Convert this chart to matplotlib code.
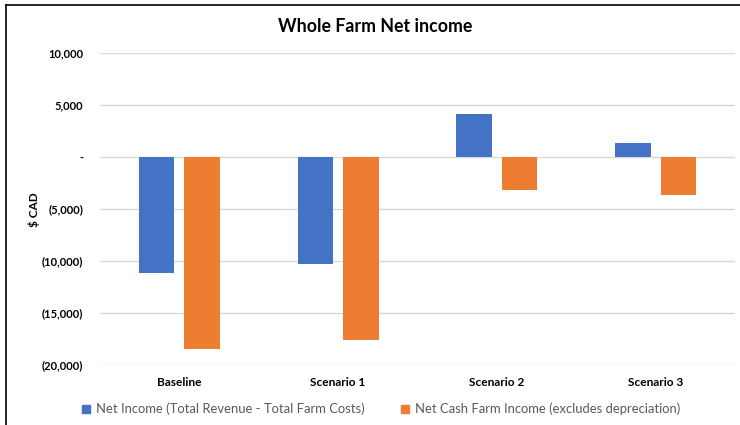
import matplotlib
matplotlib.use("Agg")
import matplotlib.pyplot as plt
import numpy as np
from matplotlib.ticker import FuncFormatter
from matplotlib.lines import Line2D

plt.rcParams['font.family'] = ['Lato', 'DejaVu Sans']

categories = ["Baseline", "Scenario 1", "Scenario 2", "Scenario 3"]
net_income = [-11200, -10300, 4100, 1300]
net_cash = [-18500, -17600, -3200, -3700]
series_names = ["Net Income (Total Revenue - Total Farm Costs)",
                "Net Cash Farm Income (excludes depreciation)"]
colors = ["#4472C4", "#ED7D31"]

fig = plt.figure(figsize=(7.4, 4.25), dpi=100)
ax = fig.add_axes([100/740, 1-365/425, 635/740, (365-53)/425])

x = np.arange(len(categories))
w = 0.224
off = 0.143
ax.bar(x - off, net_income, w, color=colors[0], zorder=3)
ax.bar(x + off, net_cash, w, color=colors[1], zorder=3)

ax.set_xlim(-0.5, 3.5)
ax.set_ylim(-20000, 10000)
ax.set_yticks(np.arange(-20000, 10001, 5000))

def fmt(v, pos):
    if v == 0:
        return "-"
    if v < 0:
        return "({:,.0f})".format(-v)
    return "{:,.0f}".format(v)

ax.yaxis.set_major_formatter(FuncFormatter(fmt))
ax.grid(axis='y', color='#D9D9D9', linewidth=1.0, zorder=0)
for s in ax.spines.values():
    s.set_visible(False)
ax.tick_params(axis='both', length=0, colors='#000000')
ax.tick_params(axis='y', pad=12, labelsize=8)
ax.tick_params(axis='x', pad=9, labelsize=8.6)
ax.set_xticks(x)
ax.set_xticklabels(categories, fontweight='bold')
for lbl in ax.get_yticklabels():
    lbl.set_fontweight('bold')

fig.text(34/740, 1-210/425, "$ CAD", rotation=90, ha='center', va='center',
         fontsize=8.5, fontweight='bold')
fig.text(375/740, 1-27/425, "Whole Farm Net income", ha='center', va='center',
         fontsize=12.8, fontweight='bold')

handles = [Line2D([], [], marker='s', linestyle='none', markersize=6,
                  markerfacecolor=c, markeredgecolor=c) for c in colors]
leg = fig.legend(handles, series_names, loc='center', bbox_to_anchor=(380/740, 1-409/425),
                 ncol=2, frameon=False, fontsize=9.4, handletextpad=0.25,
                 columnspacing=2.6, handlelength=1.0)
for t in leg.get_texts():
    t.set_color('#595959')

# partial border (top and left)
fig.add_artist(Line2D([6/740, 6/740], [0, 1-5/425], color='black', lw=1.2,
                      transform=fig.transFigure))
fig.add_artist(Line2D([6/740, 1], [1-5/425, 1-5/425], color='black', lw=1.2,
                      transform=fig.transFigure))

fig.savefig("out.png", dpi=100)
